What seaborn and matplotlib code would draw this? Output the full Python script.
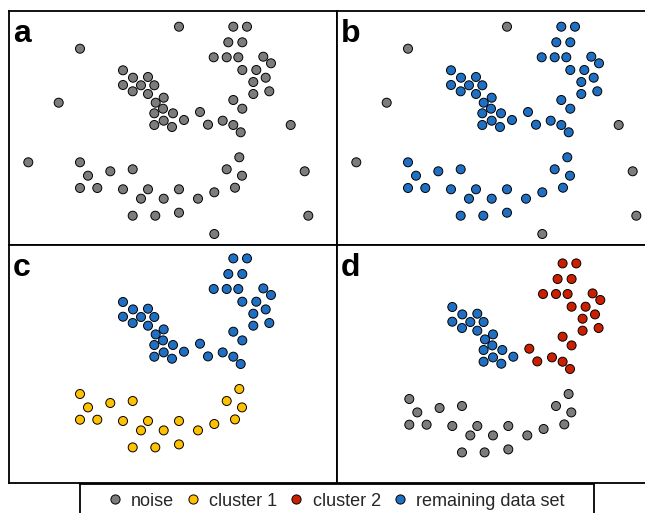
import matplotlib
matplotlib.use("Agg")
import matplotlib.pyplot as plt
import seaborn as sns
import pandas as pd
from matplotlib.lines import Line2D

# ---- data (panel units: pixels from lower-left of panel frame) ----
noise_x = [170.0, 71.0, 49.7, 19.3, 281.7, 295.7, 299.3, 205.3]
noise_y = [218.3, 196.3, 142.3, 82.7, 120.0, 73.7, 29.3, 11.0]

cluster1_x = [71.0, 79.0, 71.0, 88.3, 101.3, 123.7, 114.0, 132.0, 139.0, 154.7,
              170.0, 123.7, 146.3, 170.0, 189.0, 205.3, 226.0, 217.7, 233.0, 230.3]
cluster1_y = [82.7, 69.3, 57.0, 57.0, 73.7, 75.7, 55.7, 46.3, 55.7, 46.3,
              55.7, 29.3, 29.3, 32.3, 46.3, 52.7, 57.3, 75.7, 69.3, 87.7]

cluster2_x = [224.3, 238.0, 219.3, 233.3, 204.7, 217.7, 229.3, 254.3, 262.0, 233.3, 247.3,
              256.7, 244.3, 244.3, 260.3, 224.3, 233.3, 191.0, 199.0, 213.7, 224.3, 231.7]
cluster2_y = [218.3, 218.3, 202.7, 202.7, 187.7, 187.7, 187.7, 188.3, 181.7, 175.0, 175.0,
              167.3, 163.0, 151.0, 153.7, 145.0, 136.3, 133.0, 120.3, 124.3, 120.0, 112.7]

remaining_x = [114.0, 124.0, 139.0, 114.0, 123.7, 132.0, 145.3, 139.0, 146.7,
               154.7, 145.3, 154.0, 164.0, 145.3, 154.7, 163.0, 175.0]
remaining_y = [174.7, 167.3, 168.0, 160.0, 153.7, 159.7, 159.7, 151.0, 142.3,
               147.3, 131.7, 136.3, 131.7, 120.0, 124.3, 118.0, 125.0]

legend_labels = ["noise", "cluster 1", "cluster 2", "remaining data set"]
panel_labels = ["a", "b", "c", "d"]

colors = {"noise": "#7c7c7c", "cluster 1": "#ffc000",
          "cluster 2": "#cc1f00", "remaining data set": "#1f6fc2"}

df = pd.concat([
    pd.DataFrame({"x": noise_x, "y": noise_y, "group": "noise"}),
    pd.DataFrame({"x": cluster1_x, "y": cluster1_y, "group": "cluster 1"}),
    pd.DataFrame({"x": cluster2_x, "y": cluster2_y, "group": "cluster 2"}),
    pd.DataFrame({"x": remaining_x, "y": remaining_y, "group": "remaining data set"}),
], ignore_index=True)

# colour assignment per panel
panel_maps = [
    {"noise": "noise", "cluster 1": "noise", "cluster 2": "noise", "remaining data set": "noise"},
    {"noise": "noise", "cluster 1": "remaining data set", "cluster 2": "remaining data set",
     "remaining data set": "remaining data set"},
    {"cluster 1": "cluster 1", "cluster 2": "remaining data set",
     "remaining data set": "remaining data set"},
    {"cluster 1": "noise", "cluster 2": "cluster 2", "remaining data set": "remaining data set"},
]

sns.set_theme(style="white")
plt.rcParams["font.family"] = ["Liberation Sans", "DejaVu Sans"]

W, H = 645, 513
fig = plt.figure(figsize=(W / 100, H / 100), dpi=100)

# panel frames in pixels: left, top, width, height ; plus small data offsets
frames = [(9, 11, 328, 234), (337, 11, 328, 234), (9, 245, 328, 238), (337, 245, 328, 238)]
ylims = [(0, 234), (0, 234), (-6.3, 231.7), (-1.3, 236.7)]
xlims = [(0, 328), (0, 328), (0, 328), (-1.3, 326.7)]

for i, (l, t, w, h) in enumerate(frames):
    ax = fig.add_axes([l / W, (H - t - h) / H, w / W, h / H])
    sub = df[df["group"].isin(panel_maps[i].keys())].copy()
    sub["color"] = sub["group"].map(panel_maps[i])
    sns.scatterplot(data=sub, x="x", y="y", hue="color", palette=colors,
                    s=42, edgecolor="black", linewidth=0.7, legend=False, ax=ax,
                    zorder=3)
    ax.set_xlim(*xlims[i])
    ax.set_ylim(*ylims[i])
    ax.set_xticks([])
    ax.set_yticks([])
    ax.set_xlabel("")
    ax.set_ylabel("")
    for sp in ax.spines.values():
        sp.set_visible(True)
        sp.set_color("black")
        sp.set_linewidth(1.3)
    ax.text(4 / w, 1 - 31 / h, panel_labels[i], transform=ax.transAxes,
            fontsize=23, fontweight="bold", ha="left", va="baseline", color="black")

# legend box
lax = fig.add_axes([80 / W, (H - 540) / H, 514 / W, 56 / H])
lax.set_xticks([])
lax.set_yticks([])
lax.patch.set_alpha(0)
for sp in lax.spines.values():
    sp.set_visible(True)
    sp.set_color("black")
    sp.set_linewidth(1.3)

handles = [Line2D([0], [0], marker="o", linestyle="", markersize=6.6,
                  markerfacecolor=colors[k], markeredgecolor="black",
                  markeredgewidth=0.7) for k in legend_labels]
fig.legend(handles, legend_labels, loc="center", ncol=4,
           bbox_to_anchor=(335 / W, (H - 501) / H), frameon=False,
           fontsize=13, handletextpad=0.4, columnspacing=0.55,
           handlelength=1.0, borderpad=0)

fig.savefig("out.png", dpi=100)
